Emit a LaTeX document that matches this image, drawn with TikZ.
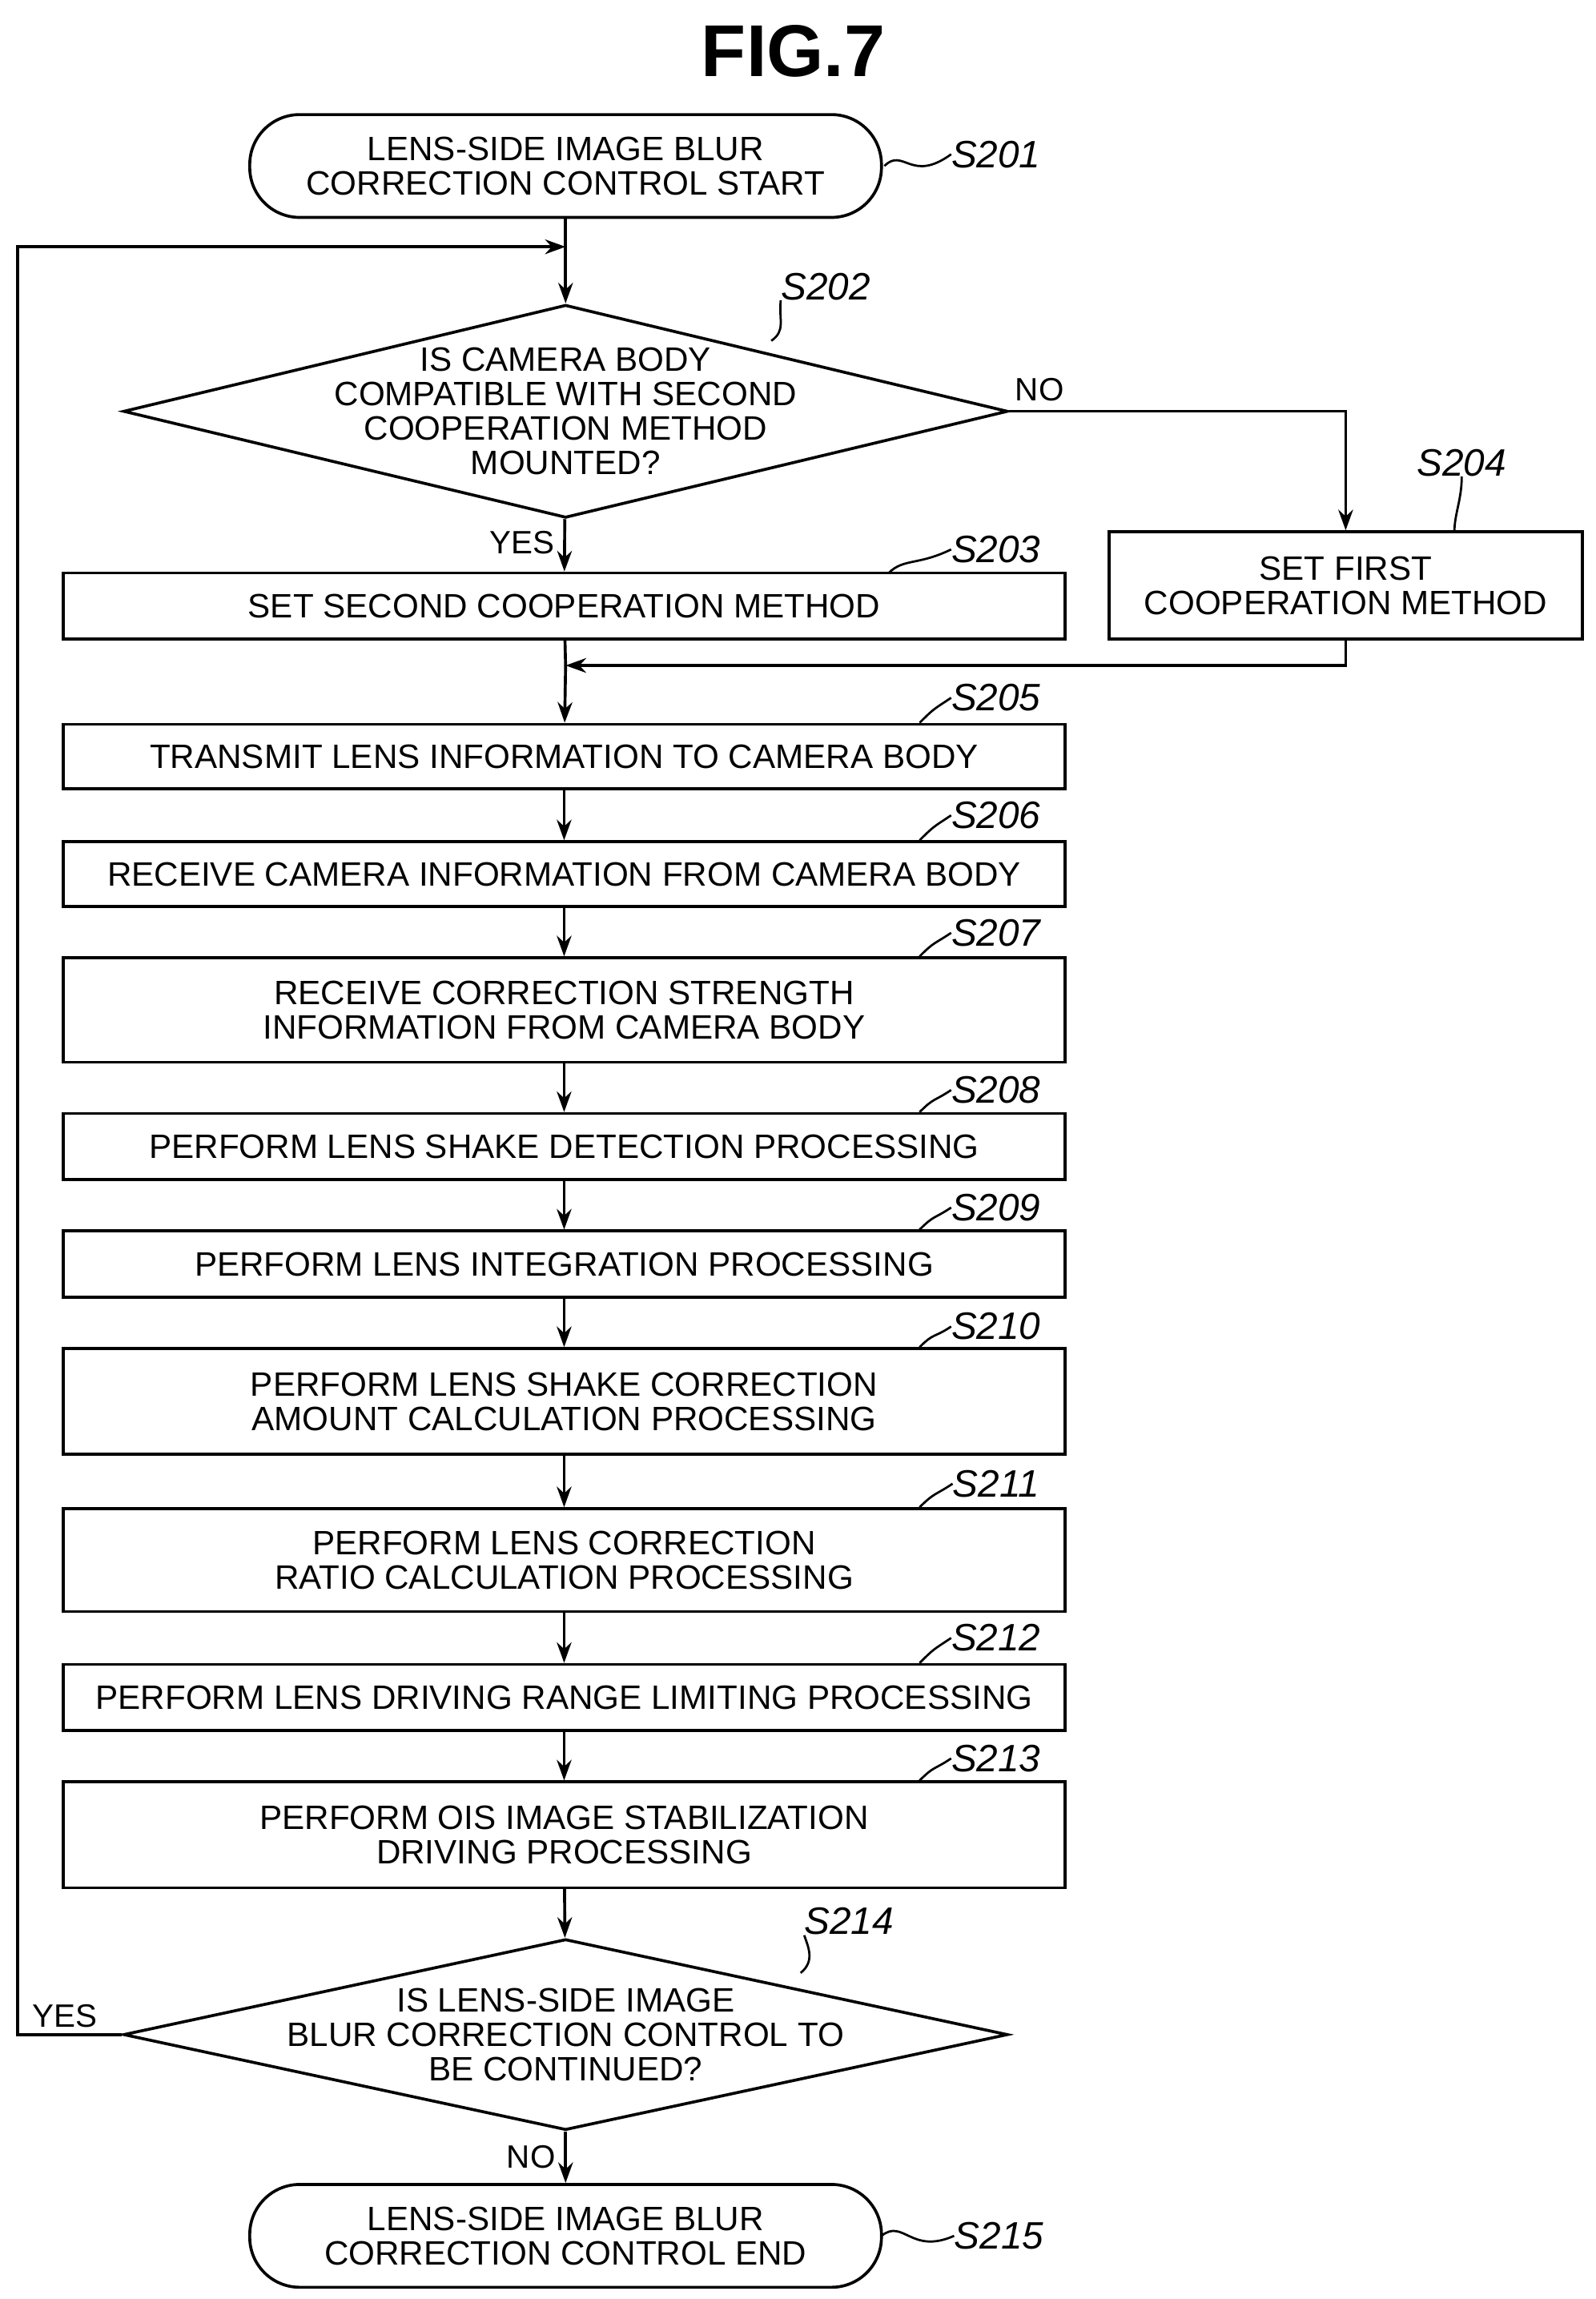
\documentclass[tikz,border=0pt]{standalone}
\usepackage{fontspec}
\setmainfont{Liberation Sans}
\usetikzlibrary{shapes.geometric,arrows.meta}
\begin{document}
\begin{tikzpicture}[x=1pt,y=-1pt,
  every node/.style={font=\fontsize{23}{23.5}\selectfont, align=center, inner sep=0pt},
  box/.style={draw, line width=2pt, minimum width=682pt},
  term/.style={draw, line width=2pt, rounded corners=34pt, minimum width=430pt, minimum height=70pt},
  dec/.style={draw, line width=2pt, diamond, aspect=4.15, inner sep=-14pt, minimum width=602pt, minimum height=145pt},
  lab/.style={font=\fontsize{26}{26}\selectfont\itshape},
  yn/.style={font=\fontsize{22}{22}\selectfont},
  ar/.style={line width=2pt, -{Stealth[length=14pt,width=10pt]}},
  ln/.style={line width=2pt},
  lead/.style={line width=1.5pt}]
\useasboundingbox (0,0) rectangle (1086,1565);
\node[font=\fontsize{50}{50}\selectfont\bfseries] (title) at (540,35) {FIG.7};
\node[term] (s201) at (385,113) {LENS-SIDE IMAGE BLUR\\CORRECTION CONTROL START};
\node[dec] (s202) at (385,280) {IS CAMERA BODY\\COMPATIBLE WITH SECOND\\COOPERATION METHOD\\MOUNTED?};
\node[box, minimum height=45pt] (s203) at (384,412.5) {SET SECOND COOPERATION METHOD};
\node[draw, line width=2pt, minimum width=322pt, minimum height=73pt] (s204) at (916,398.5) {SET FIRST\\COOPERATION METHOD};
\node[box, minimum height=44pt] (s205) at (384,515) {TRANSMIT LENS INFORMATION TO CAMERA BODY};
\node[box, minimum height=44pt] (s206) at (384,595) {RECEIVE CAMERA INFORMATION FROM CAMERA BODY};
\node[box, minimum height=71pt] (s207) at (384,687.5) {RECEIVE CORRECTION STRENGTH\\INFORMATION FROM CAMERA BODY};
\node[box, minimum height=45pt] (s208) at (384,780.5) {PERFORM LENS SHAKE DETECTION PROCESSING};
\node[box, minimum height=45pt] (s209) at (384,860.5) {PERFORM LENS INTEGRATION PROCESSING};
\node[box, minimum height=72pt] (s210) at (384,954) {PERFORM LENS SHAKE CORRECTION\\AMOUNT CALCULATION PROCESSING};
\node[box, minimum height=70pt] (s211) at (384,1062) {PERFORM LENS CORRECTION\\RATIO CALCULATION PROCESSING};
\node[box, minimum height=45pt] (s212) at (384,1155.5) {PERFORM LENS DRIVING RANGE LIMITING PROCESSING};
\node[box, minimum height=72pt] (s213) at (384,1249) {PERFORM OIS IMAGE STABILIZATION\\DRIVING PROCESSING};
\node[dec, minimum height=130pt] (s214) at (385,1385) {IS LENS-SIDE IMAGE\\BLUR CORRECTION CONTROL TO\\BE CONTINUED?};
\node[term] (s215) at (385,1522) {LENS-SIDE IMAGE BLUR\\CORRECTION CONTROL END};
% step labels
\node[lab] (l201) at (678,105) {S201};
\node[lab] (l202) at (562,195) {S202};
\node[lab] (l203) at (678,374) {S203};
\node[lab] (l204) at (995,315) {S204};
\node[lab] (l205) at (678,475) {S205};
\node[lab] (l206) at (678,555) {S206};
\node[lab] (l207) at (678,635) {S207};
\node[lab] (l208) at (678,742) {S208};
\node[lab] (l209) at (678,822) {S209};
\node[lab] (l210) at (678,903) {S210};
\node[lab] (l211) at (678,1010) {S211};
\node[lab] (l212) at (678,1115) {S212};
\node[lab] (l213) at (678,1197) {S213};
\node[lab] (l214) at (578,1308) {S214};
\node[lab] (l215) at (680,1522) {S215};
% leaders
\draw[lead] (602,113) .. controls (615,100) and (620,125) .. (l201.west);
\draw[lead] (525,232) .. controls (535,225) and (530,218) .. (l202.south west);
\draw[lead] (605,390) .. controls (615,380) and (625,385) .. (l203.west);
\draw[lead] (990,362) .. controls (990,350) and (995,340) .. (l204.south);
\foreach \b/\l in {s205/l205,s206/l206,s207/l207,s208/l208,s209/l209,s210/l210,s211/l211,s212/l212,s213/l213}
  \draw[lead] ([xshift=-100pt]\b.north east) .. controls +(10,-10) and +(-12,8) .. (\l.west);
\draw[lead] (545,1343) .. controls (555,1335) and (550,1325) .. (l214.south west);
\draw[lead] (600,1522) .. controls (615,1510) and (620,1535) .. (l215.west);
% flow
\coordinate (top) at (385,168);
\coordinate (merge) at (385,453);
\draw[ar] (s201) -- (s202);
\draw[ar] (s202) -- node[yn, pos=0.45, left=6pt]{YES} (s203);
\draw[ar] (s202.east) -- node[yn, above=6pt, pos=0.09]{NO} (s202.east -| s204) -- (s204.north);
\draw[ar] (s204.south) |- (merge);
\draw[ln] (s203) -- (merge);
\draw[ar] (merge) -- (s205);
\draw[ar] (s205) -- (s206);
\draw[ar] (s206) -- (s207);
\draw[ar] (s207) -- (s208);
\draw[ar] (s208) -- (s209);
\draw[ar] (s209) -- (s210);
\draw[ar] (s210) -- (s211);
\draw[ar] (s211) -- (s212);
\draw[ar] (s212) -- (s213);
\draw[ar] (s213) -- (s214);
\draw[ar] (s214) -- node[yn, left=6pt]{NO} (s215);
\draw[ar] (s214.west) -- node[yn, above=4pt, pos=0.55]{YES} (12,1385) -- (12,168) -- (top);
\end{tikzpicture}
\end{document}
